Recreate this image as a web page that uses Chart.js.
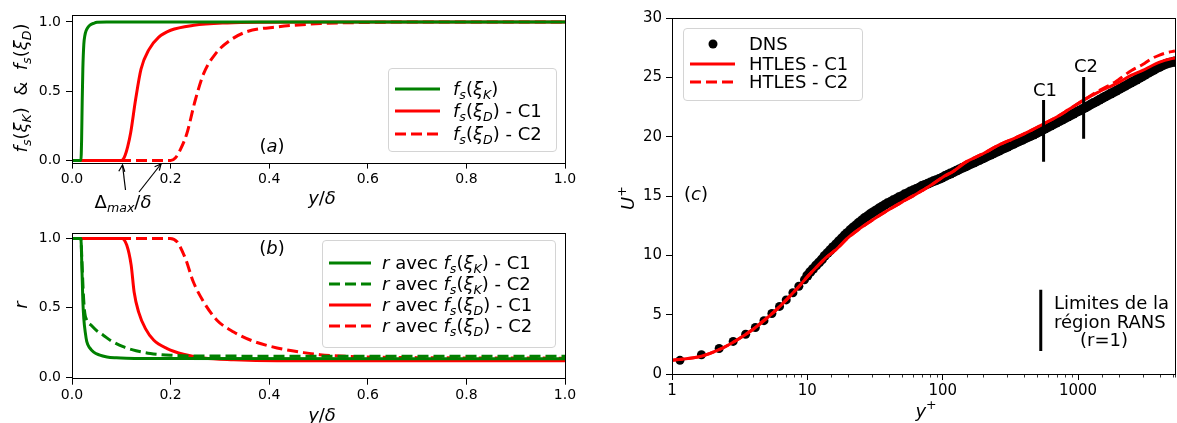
<!DOCTYPE html>
<html>
<head>
<meta charset="utf-8">
<script src="https://cdn.jsdelivr.net/npm/chart.js@4.4.1/dist/chart.umd.min.js"></script>
<style>
  body { margin:0; width:1177px; height:423px; overflow:hidden; position:relative; background:#fff; font-family:'DejaVu Sans', sans-serif; color:#000; }
  .pane { position:absolute; }
  .t { position:absolute; white-space:nowrap; font-size:18px; line-height:18px; }
  .c { transform:translate(-50%,-50%); }
  .rot { transform:translate(-50%,-50%) rotate(-90deg); }
  sub { font-size:70%; vertical-align:-0.3em; line-height:0; }
  sup { font-size:70%; vertical-align:0.6em; line-height:0; }
  .leg { position:absolute; border:1px solid #d4d4d4; border-radius:4px; background:rgba(255,255,255,0.85); }
  .leg svg { position:absolute; overflow:visible; }
</style>
</head>
<body>
<div class="pane" style="left:0;top:0;width:580px;height:215px"><canvas id="chartA"></canvas></div>
<div class="pane" style="left:0;top:220px;width:580px;height:203px"><canvas id="chartB"></canvas></div>
<div class="pane" style="left:620px;top:0;width:560px;height:423px"><canvas id="chartC"></canvas></div>

<!-- (a) texts -->
<div class="t rot" style="left:21px;top:88px"><i>f</i><sub><i>s</i></sub>(<i>ξ</i><sub><i>K</i></sub>)&nbsp;&nbsp;&amp;&nbsp;&nbsp;<i>f</i><sub><i>s</i></sub>(<i>ξ</i><sub><i>D</i></sub>)</div>
<div class="t c" style="left:272px;top:146px">(<i>a</i>)</div>
<div class="t c" style="left:322px;top:198px"><i>y</i>/<i>δ</i></div>
<div class="t c" style="left:123px;top:202px">Δ<sub><i>max</i></sub>/<i>δ</i></div>
<svg style="position:absolute;left:0;top:0" width="580" height="215">
  <g stroke="#000" stroke-width="1.2" fill="none">
    <line x1="125.5" y1="190" x2="122.5" y2="165"/>
    <polyline points="118.8,171.2 122.5,165 124.8,171.8"/>
    <line x1="139" y1="192" x2="161" y2="164"/>
    <polyline points="154.6,166.8 161,164 159.3,170.6"/>
  </g>
</svg>
<div class="leg" style="left:388px;top:68px;width:167px;height:82px">
  <svg style="left:6px;top:20px" width="45" height="1"><line x1="0" y1="0" x2="45" y2="0" stroke="green" stroke-width="3"/></svg>
  <div class="t" style="left:64px;top:11px"><i>f</i><sub><i>s</i></sub>(<i>ξ</i><sub><i>K</i></sub>)</div>
  <svg style="left:6px;top:42px" width="45" height="1"><line x1="0" y1="0" x2="45" y2="0" stroke="red" stroke-width="3"/></svg>
  <div class="t" style="left:64px;top:33px"><i>f</i><sub><i>s</i></sub>(<i>ξ</i><sub><i>D</i></sub>) - C1</div>
  <svg style="left:6px;top:65px" width="45" height="1"><line x1="0" y1="0" x2="45" y2="0" stroke="red" stroke-width="3" stroke-dasharray="11 5"/></svg>
  <div class="t" style="left:64px;top:56px"><i>f</i><sub><i>s</i></sub>(<i>ξ</i><sub><i>D</i></sub>) - C2</div>
</div>

<!-- (b) texts -->
<div class="t rot" style="left:21px;top:305px"><i>r</i></div>
<div class="t c" style="left:272px;top:248px">(<i>b</i>)</div>
<div class="t c" style="left:322px;top:415px"><i>y</i>/<i>δ</i></div>
<div class="leg" style="left:322px;top:240px;width:232px;height:106px">
  <svg style="left:6px;top:22px" width="42" height="1"><line x1="0" y1="0" x2="42" y2="0" stroke="green" stroke-width="3"/></svg>
  <div class="t" style="left:59px;top:13px"><i>r</i> avec <i>f</i><sub><i>s</i></sub>(<i>ξ</i><sub><i>K</i></sub>) - C1</div>
  <svg style="left:6px;top:43px" width="42" height="1"><line x1="0" y1="0" x2="42" y2="0" stroke="green" stroke-width="3" stroke-dasharray="11 5"/></svg>
  <div class="t" style="left:59px;top:34px"><i>r</i> avec <i>f</i><sub><i>s</i></sub>(<i>ξ</i><sub><i>K</i></sub>) - C2</div>
  <svg style="left:6px;top:64px" width="42" height="1"><line x1="0" y1="0" x2="42" y2="0" stroke="red" stroke-width="3"/></svg>
  <div class="t" style="left:59px;top:55px"><i>r</i> avec <i>f</i><sub><i>s</i></sub>(<i>ξ</i><sub><i>D</i></sub>) - C1</div>
  <svg style="left:6px;top:85px" width="42" height="1"><line x1="0" y1="0" x2="42" y2="0" stroke="red" stroke-width="3" stroke-dasharray="11 5"/></svg>
  <div class="t" style="left:59px;top:76px"><i>r</i> avec <i>f</i><sub><i>s</i></sub>(<i>ξ</i><sub><i>D</i></sub>) - C2</div>
</div>

<!-- (c) texts -->
<div class="t rot" style="left:628px;top:198px"><i>U</i><sup>+</sup></div>
<div class="t c" style="left:926px;top:411px"><i>y</i><sup>+</sup></div>
<div class="t c" style="left:696px;top:194px">(<i>c</i>)</div>
<div class="t c" style="left:1045px;top:90px">C1</div>
<div class="t c" style="left:1086px;top:66px">C2</div>
<div class="t" style="left:1054px;top:294px">Limites de la</div>
<div class="t" style="left:1054px;top:313px">région RANS</div>
<div class="t" style="left:1080px;top:331px">(r=1)</div>
<div class="leg" style="left:683px;top:28px;width:178px;height:71px">
  <svg style="left:28.6px;top:15px" width="1" height="1"><circle cx="0" cy="0" r="4.5" fill="#000"/></svg>
  <div class="t" style="left:65px;top:6px">DNS</div>
  <svg style="left:6px;top:35px" width="45" height="1"><line x1="0" y1="0" x2="45" y2="0" stroke="red" stroke-width="3"/></svg>
  <div class="t" style="left:65px;top:26px">HTLES - C1</div>
  <svg style="left:6px;top:53px" width="45" height="1"><line x1="0" y1="0" x2="45" y2="0" stroke="red" stroke-width="3" stroke-dasharray="11 5"/></svg>
  <div class="t" style="left:65px;top:44px">HTLES - C2</div>
</div>

<script>
// (a) f_s functions vs y/delta
const a_fK_x = [0, 0.018, 0.0195, 0.0207, 0.022, 0.024, 0.026, 0.029, 0.033, 0.0375, 0.044, 0.051, 0.07, 1]
const a_fK_y = [0, 0, 0.15, 0.43, 0.66, 0.84, 0.9, 0.94, 0.965, 0.98, 0.99, 0.997, 1, 1]
const a_fD1_x = [0, 0.1, 0.104, 0.108, 0.113, 0.119, 0.129, 0.14, 0.156, 0.176, 0.2, 0.247, 0.315, 0.4, 0.5, 1]
const a_fD1_y = [0, 0, 0.01, 0.04, 0.1, 0.2, 0.44, 0.66, 0.8, 0.89, 0.94, 0.976, 0.993, 0.998, 1, 1]
const a_fD2_x = [0, 0.2, 0.21, 0.22, 0.233, 0.25, 0.267, 0.291, 0.321, 0.355, 0.416, 0.504, 0.6, 0.7, 1]
const a_fD2_y = [0, 0, 0.02, 0.08, 0.195, 0.435, 0.627, 0.77, 0.868, 0.93, 0.964, 0.988, 0.996, 1, 1]

// (b) r vs y/delta
const b_K1_x = [0, 0.018, 0.02, 0.022, 0.024, 0.027, 0.03, 0.036, 0.044, 0.055, 0.071, 0.09, 0.11, 0.2, 1]
const b_K1_y = [1, 1, 0.8, 0.55, 0.42, 0.32, 0.255, 0.21, 0.18, 0.16, 0.145, 0.139, 0.136, 0.133, 0.132]
const b_K2_x = [0, 0.018, 0.02, 0.023, 0.026, 0.03, 0.04, 0.05, 0.064, 0.08, 0.105, 0.13, 0.159, 0.2, 0.3, 1]
const b_K2_y = [1, 1, 0.85, 0.6, 0.46, 0.41, 0.37, 0.335, 0.3, 0.26, 0.217, 0.19, 0.17, 0.157, 0.151, 0.15]
const b_D1_x = [0, 0.101, 0.111, 0.12, 0.126, 0.135, 0.149, 0.166, 0.193, 0.226, 0.267, 0.328, 0.416, 0.6, 1]
const b_D1_y = [1, 1, 0.952, 0.807, 0.614, 0.47, 0.349, 0.265, 0.205, 0.164, 0.137, 0.125, 0.118, 0.117, 0.117]
const b_D2_x = [0, 0.199, 0.213, 0.23, 0.246, 0.267, 0.294, 0.328, 0.368, 0.416, 0.47, 0.503, 0.58, 0.7, 1]
const b_D2_y = [1, 1, 0.976, 0.855, 0.687, 0.542, 0.41, 0.325, 0.258, 0.21, 0.176, 0.161, 0.146, 0.14, 0.136]

// (c) U+ vs y+ : DNS points (sparse near the wall, dense further out)
const dns_yp = [1.145, 1.65, 2.23, 2.83, 3.5, 4.13, 4.78, 5.47, 6.23, 6.98, 7.82, 8.65, 9.52,
  10, 10.5, 11, 11.6, 12.2, 12.8, 13.4, 14.1, 14.8, 15.5, 16.3, 17.1, 18, 18.9, 19.8, 20.8, 21.8, 22.9, 24, 25.2,
  26.5, 27.8, 29.2, 30.7, 32.2, 33.8, 35.5, 37.3, 39.1, 41.1, 43.1, 45.3, 47.5, 49.9, 52.4, 55, 57.8, 60.7, 63.7,
  66.9, 70.2, 73.7, 77.4, 81.3, 85.3, 89.6, 94.1, 98.8, 104, 109, 114, 120, 126, 132, 139, 146, 153, 161, 169,
  177, 186, 195, 205, 215, 226, 237, 249, 261, 274, 288, 302, 317, 333, 350, 367, 386, 405, 425, 446, 468, 492,
  516, 542, 569, 598, 628, 659, 692, 727, 763, 801, 841, 883, 927, 974, 1020, 1070, 1125, 1180, 1240, 1300, 1370,
  1440, 1510, 1580, 1660, 1745, 1830, 1920, 2020, 2120, 2225, 2340, 2455, 2580, 2705, 2840, 2985, 3130, 3290,
  3450, 3625, 3805, 3995, 4195, 4405, 4625, 4855, 5100, 5190]
const dns_U = [1.15, 1.62, 2.15, 2.75, 3.35, 3.92, 4.5, 5.1, 5.7, 6.25, 6.85, 7.4, 7.95,
  8.3, 8.6, 8.85, 9.15, 9.4, 9.65, 9.95, 10.2, 10.45, 10.7, 10.95, 11.2, 11.45, 11.7, 11.9, 12.15, 12.35, 12.55, 12.75, 12.95,
  13.15, 13.3, 13.5, 13.65, 13.8, 13.95, 14.1, 14.25, 14.4, 14.5, 14.65, 14.75, 14.9, 15.0, 15.15, 15.25, 15.4, 15.5, 15.6,
  15.7, 15.85, 15.95, 16.05, 16.15, 16.25, 16.35, 16.45, 16.55, 16.69, 16.8, 16.9, 17.02, 17.14, 17.25, 17.37, 17.48, 17.59, 17.71, 17.82,
  17.93, 18.04, 18.15, 18.27, 18.38, 18.5, 18.61, 18.73, 18.83, 18.95, 19.06, 19.17, 19.29, 19.4, 19.52, 19.63, 19.74, 19.86, 19.97, 20.08, 20.19, 20.31,
  20.43, 20.56, 20.69, 20.82, 20.95, 21.07, 21.2, 21.33, 21.45, 21.58, 21.71, 21.83, 21.96, 22.09, 22.21, 22.33, 22.46, 22.59, 22.73, 22.85, 22.99,
  23.13, 23.25, 23.38, 23.51, 23.65, 23.77, 23.9, 24.04, 24.17, 24.3, 24.44, 24.57, 24.7, 24.83, 24.96, 25.1, 25.24, 25.38,
  25.51, 25.65, 25.78, 25.9, 26.02, 26.12, 26.21, 26.28, 26.33, 26.35]
const c1_yp = [1, 1.65, 2.23, 3, 4, 5, 6, 7, 8, 9, 10, 12, 14, 16.3, 20, 24, 28.6, 35, 42, 50, 60, 70, 80, 100, 120, 147, 180, 200, 259, 350, 450, 556, 700, 850, 1099, 1400, 1800, 2000, 2480, 3000, 3500, 4000, 4365, 4700, 5200]
const c1_U = [1.15, 1.5, 2.05, 2.85, 3.8, 4.7, 5.5, 6.25, 6.95, 7.6, 8.2, 9.15, 9.9, 10.5, 11.5, 12.2, 12.8, 13.45, 14.0, 14.5, 15.0, 15.45, 15.85, 16.6, 17.1, 17.85, 18.35, 18.6, 19.3, 19.95, 20.55, 21.1, 21.7, 22.3, 23.1, 23.75, 24.35, 24.6, 25.2, 25.6, 26.0, 26.3, 26.45, 26.55, 26.65]
const c2_yp = [1, 1.65, 2.23, 3, 4, 5, 6, 7, 8, 9, 10, 12, 14, 16.3, 20, 24, 28.6, 35, 42, 50, 60, 70, 80, 100, 120, 147, 180, 200, 259, 350, 450, 556, 700, 850, 1099, 1400, 1800, 2000, 2480, 3000, 3500, 4000, 4365, 5200]
const c2_U = [1.15, 1.5, 2.05, 2.85, 3.8, 4.7, 5.5, 6.25, 6.95, 7.6, 8.2, 9.15, 9.9, 10.5, 11.5, 12.2, 12.8, 13.45, 14.0, 14.5, 15.0, 15.45, 15.85, 16.6, 17.1, 17.85, 18.35, 18.6, 19.3, 19.95, 20.55, 21.1, 21.7, 22.3, 23.1, 23.85, 24.5, 24.85, 25.6, 26.1, 26.6, 26.9, 27.05, 27.25]
// RANS region limits (r=1) and the key bar for them
const barC1_yp = [556, 556], barC1_U = [17.9, 23.1]
const barC2_yp = [1099, 1099], barC2_U = [19.85, 25.05]
const barKey_yp = [530, 530], barKey_U = [1.95, 7.1]

const xTicksAB = [0, 0.2, 0.4, 0.6, 0.8, 1.0]
const yTicksAB = [0, 0.5, 1.0]
const xLabelsC = [1, 10, 100, 1000]

Chart.defaults.font.family = "'DejaVu Sans', sans-serif"
Chart.defaults.color = '#000'

function pts(xs, ys) { return xs.map((x, i) => ({ x: x, y: ys[i] })) }
function isDecade(v) { const l = Math.log10(v); return Math.abs(l - Math.round(l)) < 1e-9 }

const framePlugin = {
  id: 'frame',
  afterDraw(chart) {
    const a = chart.chartArea, ctx = chart.ctx
    ctx.save()
    ctx.strokeStyle = '#000'
    ctx.lineWidth = 1
    ctx.strokeRect(Math.round(a.left) + 0.5, Math.round(a.top) + 0.5, Math.round(a.right - a.left), Math.round(a.bottom - a.top))
    ctx.restore()
  }
}

const minorTicksPlugin = {
  id: 'minorTicks',
  afterDraw(chart) {
    const s = chart.scales.x, ctx = chart.ctx, b = chart.chartArea.bottom
    ctx.save()
    ctx.strokeStyle = '#000'
    ctx.lineWidth = 0.8
    s.ticks.forEach(t => {
      if (isDecade(t.value)) return
      const px = Math.round(s.getPixelForValue(t.value)) + 0.5
      ctx.beginPath(); ctx.moveTo(px, b); ctx.lineTo(px, b + 3.5); ctx.stroke()
    })
    ctx.restore()
  }
}

function line(data, color, dashed, order) {
  return {
    data: data, borderColor: color, backgroundColor: color, borderWidth: 3,
    borderDash: dashed ? [11, 5] : [], pointRadius: 0, fill: false,
    cubicInterpolationMode: 'monotone', order: order || 0
  }
}

function baseOptions(box, xScale, yScale) {
  return {
    responsive: true, maintainAspectRatio: false, animation: false, events: [],
    layout: { padding: { left: 0, top: box.top, right: box.w - box.right, bottom: 0 } },
    plugins: { legend: { display: false }, tooltip: { enabled: false } },
    scales: {
      x: Object.assign({ afterFit: s => { s.height = box.h - box.bottom } }, xScale),
      y: Object.assign({ afterFit: s => { s.width = box.left } }, yScale)
    }
  }
}

function yDeltaScale() {
  return {
    type: 'linear', min: 0, max: 1,
    afterBuildTicks: s => { s.ticks = xTicksAB.map(v => ({ value: v })) },
    ticks: { callback: v => v.toFixed(1), font: { size: 14 }, padding: 2, maxRotation: 0, autoSkip: false },
    grid: { drawOnChartArea: false, tickLength: 6, tickColor: '#000' },
    border: { display: false }
  }
}
function unitScale(min, max) {
  return {
    type: 'linear', min: min, max: max,
    afterBuildTicks: s => { s.ticks = yTicksAB.map(v => ({ value: v })) },
    ticks: { callback: v => v.toFixed(1), font: { size: 14 }, padding: 5 },
    grid: { drawOnChartArea: false, tickLength: 6, tickColor: '#000' },
    border: { display: false }
  }
}

const configA = {
  type: 'line',
  data: { datasets: [
    line(pts(a_fK_x, a_fK_y), 'green', false),
    line(pts(a_fD1_x, a_fD1_y), 'red', false),
    line(pts(a_fD2_x, a_fD2_y), 'red', true)
  ]},
  options: baseOptions({ left: 72, top: 15, right: 565, bottom: 162.6, w: 580, h: 215 }, yDeltaScale(), unitScale(-0.015, 1.05)),
  plugins: [framePlugin]
}

const configB = {
  type: 'line',
  data: { datasets: [
    line(pts(b_K1_x, b_K1_y), 'green', false),
    line(pts(b_K2_x, b_K2_y), 'green', true),
    line(pts(b_D1_x, b_D1_y), 'red', false),
    line(pts(b_D2_x, b_D2_y), 'red', true)
  ]},
  options: baseOptions({ left: 72, top: 13.3, right: 565, bottom: 158.7, w: 580, h: 203 }, yDeltaScale(), unitScale(-0.012, 1.036)),
  plugins: [framePlugin]
}

const configC = {
  type: 'line',
  data: { datasets: [
    line(pts(barC1_yp, barC1_U), '#000', false, 0),
    line(pts(barC2_yp, barC2_U), '#000', false, 0),
    line(pts(barKey_yp, barKey_U), '#000', false, 0),
    line(pts(c1_yp, c1_U), 'red', false, 1),
    line(pts(c2_yp, c2_U), 'red', true, 2),
    { data: pts(dns_yp, dns_U), showLine: false, pointBackgroundColor: '#000', pointBorderWidth: 0, order: 3,
      pointRadius: c => (c.raw && c.raw.x >= 10) ? 5 : 4.5 }
  ]},
  options: baseOptions({ left: 52, top: 18.3, right: 557, bottom: 374, w: 560, h: 423 },
    {
      type: 'logarithmic', min: 1, max: 5200,
      ticks: { autoSkip: false, maxRotation: 0, font: { size: 15 }, padding: 2,
        callback: v => xLabelsC.indexOf(v) >= 0 ? String(v) : '' },
      grid: { drawOnChartArea: false, tickLength: 6, tickColor: c => (c.tick && isDecade(c.tick.value)) ? '#000' : 'rgba(0,0,0,0)' },
      border: { display: false }
    },
    {
      type: 'linear', min: 0, max: 30,
      ticks: { stepSize: 5, font: { size: 15 }, padding: 4 },
      grid: { drawOnChartArea: false, tickLength: 6, tickColor: '#000' },
      border: { display: false }
    }),
  plugins: [framePlugin, minorTicksPlugin]
}

const chartA = new Chart(document.getElementById('chartA'), configA)
const chartB = new Chart(document.getElementById('chartB'), configB)
const chartC = new Chart(document.getElementById('chartC'), configC)
</script>
</body>
</html>
